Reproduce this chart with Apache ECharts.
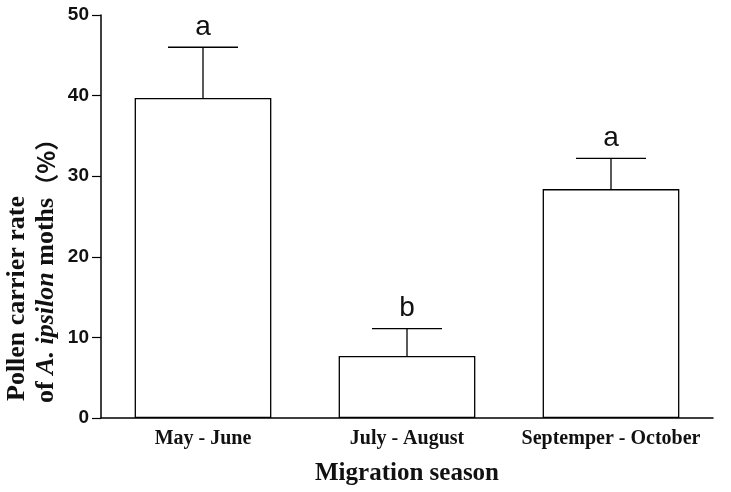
<!DOCTYPE html>
<html><head><meta charset="utf-8">
<script src="https://cdn.jsdelivr.net/npm/echarts@6/dist/echarts.min.js"></script>
<style>html,body{margin:0;padding:0;background:#fff}#c{width:731px;height:492px}</style>
</head><body><div id="c"></div>
<script>
const categories = ['May - June', 'July - August', 'Septemper - October'];
const means = [39.7, 7.7, 28.4];
const errors = [6.3, 3.4, 3.8];
const letters = ['a', 'b', 'a'];
const yTicks = [0, 10, 20, 30, 40, 50];
const yTitle1 = 'Pollen carrier rate';
const yTitle2 = ['of ', 'A. ipsilon', ' moths', '（%）'];
const xTitle = 'Migration season';

const chart = echarts.init(document.getElementById('c'));
const errData = categories.map((c, i) => [i, means[i], means[i] + errors[i], letters[i]]);
const serif = '"Liberation Serif", "Times New Roman", serif';
chart.setOption({
  animation: false,
  grid: { left: 101, right: 18, top: 15, bottom: 74, containLabel: false, outerBoundsMode: 'none' },
  xAxis: {
    type: 'category', data: categories,
    axisLine: { lineStyle: { color: '#000', width: 1.5 } },
    axisTick: { alignWithLabel: true, length: 8, lineStyle: { color: '#000', width: 1.2 } },
    axisLabel: { interval: 0, color: '#111', fontFamily: serif, fontWeight: 'bold', fontSize: 20, margin: 11 },
    name: xTitle, nameLocation: 'middle', nameGap: 43,
    nameTextStyle: { color: '#111', fontFamily: serif, fontWeight: 'bold', fontSize: 25 }
  },
  yAxis: {
    type: 'value', min: yTicks[0], max: yTicks[yTicks.length - 1], interval: 10,
    splitLine: { show: false },
    axisLine: { show: true, lineStyle: { color: '#000', width: 1.5 } },
    axisTick: { show: true, length: 9, lineStyle: { color: '#000', width: 1.2 } },
    axisLabel: { color: '#111', fontFamily: 'Liberation Sans', fontWeight: 'bold', fontSize: 19, margin: 12 }
  },
  graphic: [
    { type: 'text', x: 17, y: 401, rotation: Math.PI / 2,
      style: { text: yTitle1, fill: '#111', font: 'bold 26px ' + serif, align: 'left', verticalAlign: 'middle' } },
    { type: 'text', x: 46, y: 403, rotation: Math.PI / 2,
      style: { text: yTitle2[0] + '{i|' + yTitle2[1] + '}' + yTitle2[2] + '{p|' + yTitle2[3] + '}', fill: '#111', font: 'bold 26px ' + serif, align: 'left', verticalAlign: 'middle',
        rich: {
          i: { fontFamily: serif, fontWeight: 'bold', fontStyle: 'italic', fontSize: 26, fill: '#111' },
          p: { fontFamily: '"Noto Sans CJK SC"', fontWeight: 'bold', fontSize: 24, fill: '#111' }
        } } }
  ],
  series: [
    {
      type: 'bar', data: means, barCategoryGap: '33%',
      itemStyle: { color: '#fff', borderColor: '#000', borderWidth: 1.3 }
    },
    {
      type: 'custom', data: errData, z: 10,
      renderItem: function (params, api) {
        const x = api.value(0);
        const lo = api.coord([x, api.value(1)]);
        const hi = api.coord([x, api.value(2)]);
        const hw = 35;
        return {
          type: 'group', children: [
            { type: 'line', shape: { x1: lo[0], y1: lo[1], x2: hi[0], y2: hi[1] }, style: { stroke: '#000', lineWidth: 1.3 } },
            { type: 'line', shape: { x1: hi[0] - hw, y1: hi[1], x2: hi[0] + hw, y2: hi[1] }, style: { stroke: '#000', lineWidth: 1.3 } },
            { type: 'text', x: hi[0], y: hi[1] - 6, style: { text: api.value(3), fill: '#111', font: '28px "Liberation Sans"', align: 'center', verticalAlign: 'bottom' } }
          ]
        };
      }
    }
  ]
});
</script></body></html>
